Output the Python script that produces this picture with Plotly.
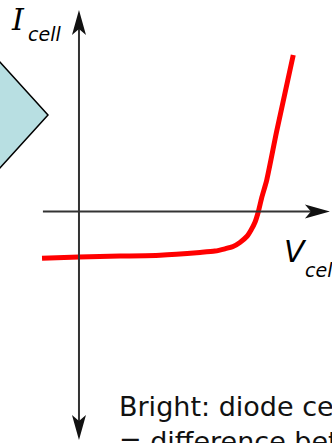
import plotly.graph_objects as go

# Illuminated solar cell: I-V characteristic
# (cell voltage in volts, cell current normalised to the short-circuit current)
cell_voltage = [-0.124, 0.000, 0.138, 0.272, 0.406, 0.456, 0.490, 0.517, 0.540,
                0.563, 0.577, 0.591, 0.602, 0.613, 0.630, 0.663, 0.719]
cell_current = [-1.03, -1.00, -0.98, -0.96, -0.90, -0.87, -0.82, -0.77, -0.68,
                -0.55, -0.41, -0.23, 0.00, 0.30, 0.69, 1.75, 3.44]

current_label = ("I", "cell")
voltage_label = ("V", "cell")
caption_lines = ["Bright: diode cell",
                 "= difference between"]

W, H = 332, 443
X_RANGE = [-0.265, 0.849]
Y_RANGE = [-5.088, 4.648]

# extents of the drawn coordinate axes (data units)
H_AXIS = (-0.121, 0.842)
V_AXIS = (-5.022, 4.429)

# light-blue block partly visible at the left edge (data units)
BLOCK_RIGHT_V, BLOCK_CENTER_I = -0.104, 2.12
BLOCK_HALF_W, BLOCK_HALF_H = 0.201, 1.45

kx = W / (X_RANGE[1] - X_RANGE[0])   # px per volt
ky = H / (Y_RANGE[1] - Y_RANGE[0])   # px per current unit

AXIS_COLOR = "#333333"
HEAD_LEN, HEAD_HALF, HEAD_NOTCH = 25, 7, 19

fig = go.Figure()

fig.add_trace(go.Scatter(
    x=cell_voltage, y=cell_current, mode="lines",
    line=dict(color="#ff0000", width=5, shape="spline", smoothing=0.6),
    hoverinfo="skip",
))

shapes = []

# block
r, c = BLOCK_RIGHT_V, BLOCK_CENTER_I
shapes.append(dict(
    type="path", xref="x", yref="y", layer="below",
    path=(f"M{r},{c} L{r - BLOCK_HALF_W},{c + BLOCK_HALF_H} "
          f"L{r - 2 * BLOCK_HALF_W},{c} L{r - BLOCK_HALF_W},{c - BLOCK_HALF_H} Z"),
    fillcolor="#b8dfe2", line=dict(color="#000000", width=1.5),
))

# horizontal axis (voltage) with arrow on the right
shapes.append(dict(type="line", xref="x", yref="y",
                   x0=H_AXIS[0], x1=H_AXIS[1] - 12 / kx, y0=0, y1=0,
                   line=dict(color=AXIS_COLOR, width=2)))
shapes.append(dict(type="path", xref="x", yref="y",
                   xsizemode="pixel", ysizemode="pixel",
                   xanchor=H_AXIS[1], yanchor=0,
                   path=(f"M0,0 L{-HEAD_LEN},{HEAD_HALF} L{-HEAD_NOTCH},0 "
                         f"L{-HEAD_LEN},{-HEAD_HALF} Z"),
                   fillcolor="#111111", line=dict(width=0)))

# vertical axis (current) with arrows at both ends
shapes.append(dict(type="line", xref="x", yref="y",
                   x0=0, x1=0, y0=V_AXIS[0] + 12 / ky, y1=V_AXIS[1] - 12 / ky,
                   line=dict(color=AXIS_COLOR, width=2)))
shapes.append(dict(type="path", xref="x", yref="y",
                   xsizemode="pixel", ysizemode="pixel",
                   xanchor=0, yanchor=V_AXIS[1],
                   path=(f"M0,0 L{-HEAD_HALF},{-HEAD_LEN} L0,{-HEAD_NOTCH} "
                         f"L{HEAD_HALF},{-HEAD_LEN} Z"),
                   fillcolor="#111111", line=dict(width=0)))
shapes.append(dict(type="path", xref="x", yref="y",
                   xsizemode="pixel", ysizemode="pixel",
                   xanchor=0, yanchor=V_AXIS[0],
                   path=(f"M0,0 L{-HEAD_HALF},{HEAD_LEN} L0,{HEAD_NOTCH} "
                         f"L{HEAD_HALF},{HEAD_LEN} Z"),
                   fillcolor="#111111", line=dict(width=0)))

annotations = [
    dict(text=current_label[0], x=10 / W, y=1 - 38 / H,
         font=dict(family="DejaVu Serif", size=30, style="italic", color="#000")),
    dict(text=current_label[1], x=27 / W, y=1 - 46 / H,
         font=dict(family="DejaVu Sans", size=19, style="italic", color="#000")),
    dict(text=voltage_label[0], x=283 / W, y=1 - 270 / H,
         font=dict(family="DejaVu Sans", size=30, style="italic", color="#000")),
    dict(text=voltage_label[1], x=304 / W, y=1 - 282 / H,
         font=dict(family="DejaVu Sans", size=19, style="italic", color="#000")),
]
for a in annotations:
    a.update(xref="paper", yref="paper", xanchor="left", yanchor="bottom",
             showarrow=False, borderpad=0)

annotations.append(dict(
    text="<br>".join(caption_lines), xref="paper", yref="paper",
    x=118 / W, y=1 - 390 / H, xanchor="left", yanchor="top", align="left",
    showarrow=False, borderpad=0,
    font=dict(family="DejaVu Sans", size=27, color="#111111"),
))

fig.update_layout(
    width=W, height=H,
    margin=dict(l=0, r=0, t=0, b=0),
    paper_bgcolor="white", plot_bgcolor="white",
    showlegend=False,
    xaxis=dict(range=X_RANGE, visible=False, fixedrange=True),
    yaxis=dict(range=Y_RANGE, visible=False, fixedrange=True),
    shapes=shapes,
    annotations=annotations,
)

fig.write_html("out.html", config={"displayModeBar": False})
